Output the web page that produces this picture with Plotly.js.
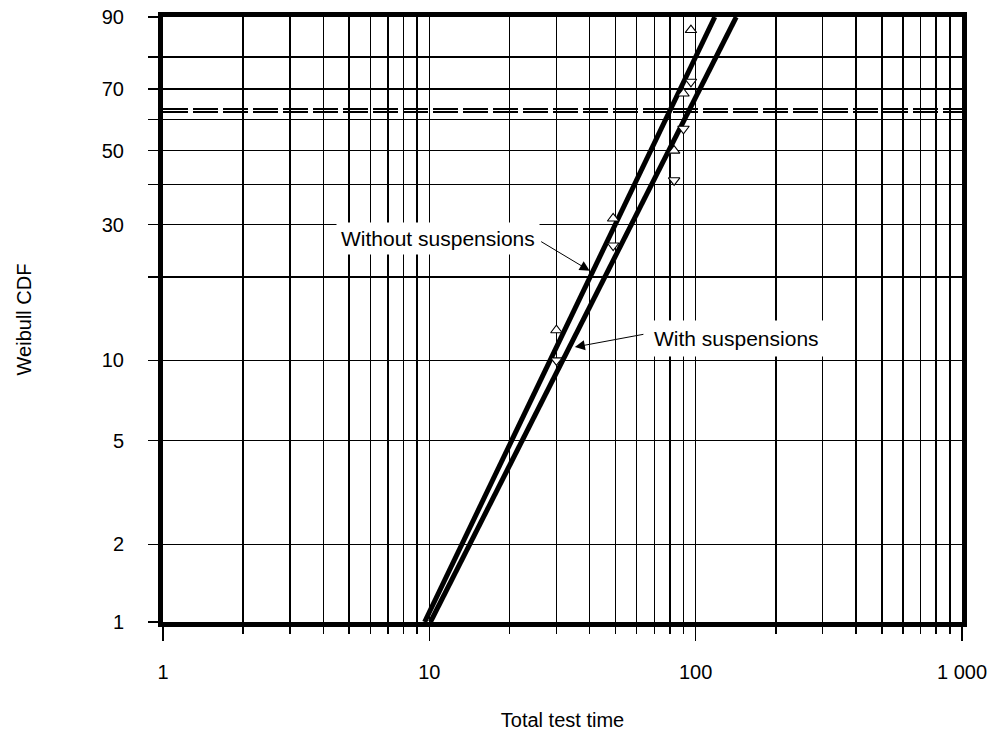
<!DOCTYPE html>
<html>
<head>
<meta charset="utf-8">
<script src="https://cdn.plot.ly/plotly-3.0.1.min.js"></script>
<style>
  html, body { margin: 0; padding: 0; background: #fff; }
  #chart { width: 988px; height: 731px; }
</style>
</head>
<body>
<div id="chart"></div>
<script>
// Failure times and their plotting positions (percent failed)
const failureTimes = [30, 49, 83, 90, 96];
const ranksWithout = [12.9, 31.4, 50, 68.6, 87.1];
const ranksWith = [10.0, 25.6, 41.2, 57.0, 72.4];

// Fitted Weibull lines, given by their times at the 1 % and 90 % levels
const fitPct = [1, 90];
const fitWithoutTimes = [9.6, 118];
const fitWithTimes = [10.1, 142];

// Characteristic-life reference levels (percent)
const etaLevels = [63.5, 62.5];

// Axis ticks
const yTickPct = [1, 2, 5, 10, 20, 30, 40, 50, 60, 70, 80, 90];
const yTickText = ['1', '2', '5', '10', '', '30', '', '50', '', '70', '', '90'];
const xMajor = [1, 10, 100, 1000];
const xMajorText = ['1', '10', '100', '1 000'];
const xMinor = [2, 3, 4, 5, 6, 7, 8, 9, 20, 30, 40, 50, 60, 70, 80, 90,
                200, 300, 400, 500, 600, 700, 800, 900];
const xRange = [1, 1000];
const yRangePct = [1, 90];

// Annotation targets: [time, percent]
const labelWithoutTip = [40, 21];
const labelWithTip = [35.2, 11.2];

// Weibull probability scale: ln(-ln(1 - F))
const wb = p => Math.log(-Math.log(1 - p / 100));

const FONT = 'Liberation Sans, Arial, sans-serif';

const traces = [
  {
    x: fitWithoutTimes, y: fitPct.map(wb), mode: 'lines',
    line: { color: '#000', width: 5 }, hoverinfo: 'skip'
  },
  {
    x: fitWithTimes, y: fitPct.map(wb), mode: 'lines',
    line: { color: '#000', width: 5 }, hoverinfo: 'skip'
  },
  {
    x: failureTimes, y: ranksWithout.map(wb), mode: 'markers',
    marker: { symbol: 'triangle-up', size: 10, color: '#fff',
              line: { color: '#000', width: 1.1 } }
  },
  {
    x: failureTimes, y: ranksWith.map(wb), mode: 'markers',
    marker: { symbol: 'triangle-down', size: 10, color: '#fff',
              line: { color: '#000', width: 1.1 } }
  }
];

const shapes = etaLevels.map(p => ({
  type: 'line', xref: 'paper', x0: 0, x1: 1, yref: 'y', y0: wb(p), y1: wb(p),
  line: { color: '#000', width: 2.2, dash: '25px,5px' }
}));

const annotations = [
  // label boxes
  { x: Math.log10(labelWithoutTip[0]), y: wb(labelWithoutTip[1]),
    xref: 'x', yref: 'y', text: 'Without suspensions', showarrow: true,
    arrowcolor: 'rgba(0,0,0,0)', ax: -152, ay: -32,
    bgcolor: '#fff', borderpad: 4, font: { family: FONT, size: 21, color: '#000' } },
  { x: Math.log10(labelWithTip[0]), y: wb(labelWithTip[1]),
    xref: 'x', yref: 'y', text: 'With suspensions', showarrow: true,
    arrowcolor: 'rgba(0,0,0,0)', ax: 162, ay: -9,
    bgcolor: '#fff', borderpad: 6, font: { family: FONT, size: 21, color: '#000' } },
  // leader arrows
  { x: Math.log10(labelWithoutTip[0]), y: wb(labelWithoutTip[1]),
    xref: 'x', yref: 'y', text: '', showarrow: true, ax: -50, ay: -30,
    arrowhead: 2, arrowsize: 2, arrowwidth: 1, arrowcolor: '#000' },
  { x: Math.log10(labelWithTip[0]), y: wb(labelWithTip[1]),
    xref: 'x', yref: 'y', text: '', showarrow: true, ax: 70, ay: -13,
    arrowhead: 2, arrowsize: 2, arrowwidth: 1, arrowcolor: '#000' }
];

const layout = {
  width: 988, height: 731,
  margin: { l: 163, r: 26, t: 17, b: 109 },
  paper_bgcolor: '#fff', plot_bgcolor: '#fff',
  showlegend: false,
  font: { family: FONT, size: 20, color: '#000' },
  xaxis: {
    type: 'log', range: xRange.map(Math.log10),
    tickmode: 'array', tickvals: xMajor, ticktext: xMajorText,
    ticks: 'outside', ticklen: 14, tickwidth: 1.5, tickcolor: '#000',
    ticklabelstandoff: 14,
    showgrid: true, gridcolor: '#000', gridwidth: 1.5,
    minor: { tickmode: 'array', tickvals: xMinor, ticks: 'outside', ticklen: 7,
             tickwidth: 1.5, tickcolor: '#000', showgrid: true,
             gridcolor: '#000', gridwidth: 1.5 },
    showline: true, linecolor: '#000', linewidth: 5, mirror: true,
    zeroline: false,
    title: { text: 'Total test time', font: { family: FONT, size: 20 }, standoff: 38 }
  },
  yaxis: {
    range: yRangePct.map(wb),
    tickmode: 'array', tickvals: yTickPct.map(wb), ticktext: yTickText,
    ticks: 'outside', ticklen: 10, tickwidth: 1.5, tickcolor: '#000',
    ticklabelstandoff: 20,
    showgrid: true, gridcolor: '#000', gridwidth: 1.5,
    showline: true, linecolor: '#000', linewidth: 5, mirror: true,
    zeroline: false,
    title: { text: 'Weibull CDF', font: { family: FONT, size: 20 }, standoff: 66 }
  },
  shapes: shapes,
  annotations: annotations
};

Plotly.newPlot('chart', traces, layout, { staticPlot: true, displayModeBar: false });
</script>
</body>
</html>
